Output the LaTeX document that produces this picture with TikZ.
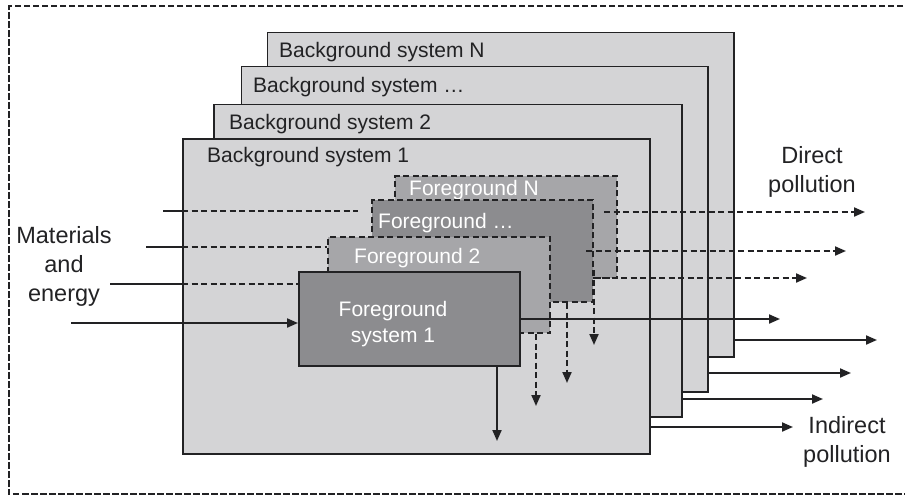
\documentclass[tikz,border=0pt]{standalone}
\usepackage{fontspec}
\setmainfont{Liberation Sans}
\usetikzlibrary{arrows.meta}

\definecolor{ink}{RGB}{34,34,36}
\definecolor{bgfill}{RGB}{212,212,214}
\definecolor{fglight}{RGB}{166,166,169}
\definecolor{fgdark}{RGB}{140,140,143}

\tikzset{
  bgbox/.style={draw=ink, line width=1.8pt, fill=bgfill, anchor=north west, inner sep=0pt},
  fgbox/.style={draw=ink, line width=2pt, dash pattern=on 6pt off 3.5pt, anchor=north west, inner sep=0pt},
  fgsolid/.style={draw=ink, line width=1.8pt, anchor=north west, inner sep=0pt},
  bglabel/.style={anchor=base west, inner sep=0pt, text=ink, font=\fontsize{21}{25}\selectfont},
  fglabel/.style={anchor=base west, inner sep=0pt, text=white, font=\fontsize{21}{25}\selectfont},
  outlabel/.style={anchor=north, inner sep=0pt, text=ink, align=center, font=\fontsize{23.5}{29}\selectfont},
  flow/.style={draw=ink, line width=2pt},
  dflow/.style={draw=ink, line width=2pt, dash pattern=on 6pt off 3.5pt},
  tip/.style={-{Triangle[length=11pt,width=9pt]}},
  frame/.style={draw=ink, line width=2pt, dash pattern=on 6.5pt off 2.5pt}
}

\begin{document}
\begin{tikzpicture}[x=1pt,y=-1pt]
  \clip (0,0) rectangle (905,496);

  % outer dashed frame (open towards the right)
  \draw[frame] (912,6) -- (9,6) -- (9,494) -- (912,494);

  % background systems, back to front
  \node[bgbox, minimum width=466.5pt, minimum height=324.5pt] (bgN) at (266.5,31.5) {};
  \node[bglabel] (bgNt) at (279,57) {Background system N};
  \node[bgbox, minimum width=466.5pt, minimum height=325.5pt] (bgD) at (240.5,65.5) {};
  \node[bglabel] (bgDt) at (253,92) {Background system \dots};
  \node[bgbox, minimum width=468pt, minimum height=312.5pt] (bg2) at (213,103.5) {};
  \node[bglabel] (bg2t) at (229,129) {Background system 2};
  \node[bgbox, minimum width=467pt, minimum height=315pt] (bg1) at (182,138) {};
  \node[bglabel] (bg1t) at (207,162.5) {Background system 1};

  % foreground systems, back to front
  \node[fgbox, fill=fglight, minimum width=222pt, minimum height=102pt] (fgN) at (394,175) {};
  \node[fglabel] (fgNt) at (409,195) {Foreground N};
  \node[fgbox, fill=fgdark, minimum width=221pt, minimum height=102pt] (fgD) at (371,199) {};
  \node[fglabel] (fgDt) at (378,228) {Foreground \dots};
  \node[fgbox, fill=fglight, minimum width=222pt, minimum height=96pt] (fg2) at (327,236) {};
  \node[fglabel] (fg2t) at (354,263) {Foreground 2};
  \node[fgsolid, fill=fgdark, minimum width=221pt, minimum height=94pt] (fg1) at (298,271) {};
  \node[anchor=north, inner sep=0pt, text=white, align=center,
        font=\fontsize{21}{26}\selectfont] (fg1t) at (393,301) {Foreground\\system 1};

  % outside labels
  \node[outlabel] (mat) at (64,226) {Materials\\and\\energy};
  \node[outlabel] (direct) at (812,146) {Direct\\pollution};
  \node[outlabel] (indirect) at (847,416) {Indirect\\pollution};

  % inputs of materials and energy
  \coordinate (in1) at (163,210.5);
  \coordinate (in1e) at (358,210.5);
  \coordinate (in2) at (146,246.5);
  \coordinate (in3) at (110,284);
  \coordinate (in4) at (71,323);
  \draw[flow] (in1) -- (in1 -| bg1.west);
  \draw[dflow] (in1 -| bg1.west) -- (in1e);
  \draw[flow] (in2) -- (in2 -| bg1.west);
  \draw[dflow] (in2 -| bg1.west) -- (in2 -| fg2.west);
  \draw[flow] (in3) -- (in3 -| bg1.west);
  \draw[dflow] (in3 -| bg1.west) -- (in3 -| fg1.west);
  \draw[flow, tip] (in4) -- (in4 -| fg1.west);

  % direct pollution from the foreground systems
  \coordinate (dN) at (604,212);
  \coordinate (dNe) at (865,212);
  \coordinate (dD) at (586,251);
  \coordinate (dDe) at (846,251);
  \coordinate (d2) at (592.5,278);
  \coordinate (d2e) at (807,278);
  \coordinate (d1e) at (780,319);
  \draw[dflow, tip] (dN) -- (dNe);
  \draw[dflow, tip] (dD) -- (dDe);
  \draw[dflow, tip] (d2) -- (d2e);
  \draw[flow, tip] (fg1.east |- d1e) -- (d1e);

  % indirect flows down into the background
  \coordinate (vN) at (594,270);
  \coordinate (vNe) at (594,345);
  \coordinate (vDe) at (567,383);
  \coordinate (v2e) at (536,406);
  \coordinate (v1e) at (497,441);
  \draw[dflow, tip] (vN) -- (vNe);
  \draw[dflow, tip] (vDe |- fgD.south) -- (vDe);
  \draw[dflow, tip] (v2e |- fg2.south) -- (v2e);
  \draw[flow, tip] (v1e |- fg1.south) -- (v1e);

  % indirect pollution from the background systems
  \coordinate (oN) at (877,340);
  \coordinate (oD) at (851,373);
  \coordinate (o2) at (823,399);
  \coordinate (o1) at (793,427);
  \draw[flow, tip] (bgN.east |- oN) -- (oN);
  \draw[flow, tip] (bgD.east |- oD) -- (oD);
  \draw[flow, tip] (bg2.east |- o2) -- (o2);
  \draw[flow, tip] (bg1.east |- o1) -- (o1);
\end{tikzpicture}
\end{document}
